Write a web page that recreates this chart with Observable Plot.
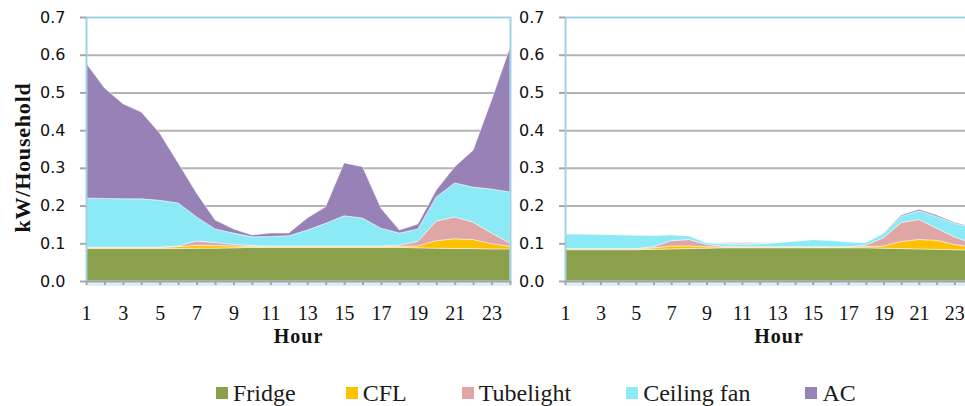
<!DOCTYPE html>
<html><head><meta charset="utf-8">
<script src="https://cdn.jsdelivr.net/npm/d3@7"></script>
<script src="https://cdn.jsdelivr.net/npm/@observablehq/plot@0.6"></script>
<style>
html,body{margin:0;padding:0;background:#fff;width:965px;height:406px;overflow:hidden;position:relative}
#left{position:absolute;left:0;top:0;width:515px}
#right{position:absolute;left:480px;top:0;width:500px}
#left svg,#right svg{background:transparent;max-width:none !important}
#legend{position:absolute;left:216px;top:379px;display:flex;gap:55px;font-family:"Liberation Serif",serif;font-size:24px;line-height:28px;color:#1a1a1a;white-space:nowrap}
.item{display:flex;align-items:center;gap:5px}
.item:first-child{margin-right:-5px}
.sw{width:12px;height:12px;display:inline-block}
g[aria-label="y-axis label"] text{font-family:"Liberation Serif",serif;font-weight:bold;font-size:22px;letter-spacing:0.8px;fill:#111;translate:2px 8px}
g[aria-label="x-axis label"] text{font-family:"Liberation Serif",serif;font-weight:bold;font-size:20px;letter-spacing:1px;fill:#111}
#right g[aria-label="x-axis label"] text{translate:10px 0}
</style>
</head><body>
<div id="left"></div>
<div id="right"></div>
<div id="legend"></div>
<script>
const hours = [1,2,3,4,5,6,7,8,9,10,11,12,13,14,15,16,17,18,19,20,21,22,23,24];
const appliances = ["Fridge","CFL","Tubelight","Ceiling fan","AC"];
const colors = ["#8aa04b","#ffc000","#e0a6a5","#8ce9f6","#9781b6"];
const yTicks = [0,0.1,0.2,0.3,0.4,0.5,0.6,0.7];
const gridTicks = [0.1,0.2,0.3,0.4,0.5,0.6];
const yLabel = "kW/Household";
const xLabel = "Hour";

// Left panel (kW per household, stacked increments)
const fridgeA = [0.086,0.086,0.086,0.086,0.086,0.086,0.087,0.087,0.088,0.089,0.089,0.089,0.089,0.089,0.089,0.089,0.089,0.089,0.088,0.087,0.086,0.086,0.085,0.085];
const cflA    = [0.003,0.003,0.003,0.003,0.003,0.005,0.008,0.007,0.005,0.003,0.003,0.003,0.003,0.003,0.003,0.003,0.003,0.003,0.005,0.020,0.026,0.024,0.014,0.007];
const tubeA   = [0.001,0.001,0.001,0.001,0.001,0.002,0.011,0.008,0.004,0.002,0.001,0.001,0.001,0.001,0.001,0.001,0.001,0.003,0.012,0.052,0.058,0.046,0.028,0.008];
const fanA    = [0.130,0.129,0.128,0.128,0.124,0.114,0.064,0.036,0.030,0.023,0.025,0.027,0.042,0.060,0.080,0.074,0.047,0.032,0.033,0.064,0.090,0.093,0.117,0.136];
const acA     = [0.358,0.293,0.252,0.230,0.178,0.106,0.063,0.024,0.011,0.005,0.009,0.007,0.032,0.044,0.140,0.136,0.053,0.008,0.013,0.018,0.043,0.098,0.236,0.384];

// Right panel
const fridgeB = [0.083,0.083,0.083,0.083,0.083,0.084,0.085,0.086,0.087,0.088,0.088,0.088,0.088,0.088,0.088,0.088,0.088,0.088,0.087,0.086,0.085,0.084,0.083,0.082];
const cflB    = [0.002,0.002,0.002,0.002,0.002,0.004,0.008,0.007,0.004,0.002,0.002,0.002,0.002,0.002,0.002,0.002,0.002,0.003,0.006,0.019,0.025,0.024,0.014,0.008];
const tubeB   = [0.001,0.001,0.001,0.001,0.001,0.003,0.014,0.017,0.006,0.002,0.001,0.001,0.001,0.001,0.001,0.001,0.001,0.004,0.022,0.050,0.053,0.032,0.020,0.010];
const fanB    = [0.039,0.039,0.038,0.037,0.036,0.030,0.016,0.010,0.005,0.007,0.007,0.008,0.011,0.015,0.019,0.017,0.013,0.007,0.012,0.017,0.023,0.031,0.036,0.042];
const acB     = [0,0,0,0,0,0,0,0,0,0,0,0,0,0,0,0,0,0,0.001,0.003,0.004,0.004,0.003,0.002];

function panel(series, {width, marginLeft, marginRight, label}) {
  const rows = [];
  appliances.forEach((a, i) => series[i].forEach((v, j) => rows.push({hour: hours[j], appliance: a, value: v})));
  return Plot.plot({
    width, height: 352, marginTop: 17, marginBottom: 71, marginLeft, marginRight,
    style: {background: "transparent", overflow: "visible", maxWidth: "none"},
    x: {domain: [1, 24]},
    y: {domain: [0, 0.7]},
    color: {domain: appliances, range: colors},
    marks: [
      Plot.gridY(gridTicks, {stroke: "#b3b3b3", strokeOpacity: 1, strokeWidth: 2}),
      Plot.areaY(rows, {x: "hour", y: "value", z: "appliance", fill: "appliance", order: appliances, stroke: "#fff", strokeWidth: 0.6, strokeOpacity: 0.8}),
      Plot.frame({stroke: "#9fd3e3", strokeWidth: 2}),
      Plot.ruleY([0], {stroke: "#a6a6a6", strokeWidth: 2}),
      Plot.ruleY([0], {stroke: "#cdeaf2", strokeWidth: 2, dy: 3}),
      Plot.axisY({ticks: yTicks, tickFormat: d3.format(".1f"), tickSize: 6, tickPadding: 15,
        stroke: "#a6a6a6", strokeWidth: 2, fill: "#111", fontFamily: "DejaVu Sans", fontSize: 16,
        label, labelAnchor: "center", labelOffset: 74, labelArrow: "none"}),
      Plot.axisX({ticks: hours, tickFormat: d => d % 2 ? String(d) : "", tickSize: 4, tickPadding: 20,
        stroke: "#a6a6a6", strokeWidth: 2, fill: "#111", fontFamily: "Liberation Serif", fontSize: 20,
        label: xLabel, labelAnchor: "center", labelOffset: 61, labelArrow: "none"})
    ]
  });
}

document.getElementById("left").append(panel([fridgeA, cflA, tubeA, fanA, acA], {width: 515, marginLeft: 86, marginRight: 5, label: yLabel}));
document.getElementById("right").append(panel([fridgeB, cflB, tubeB, fanB, acB], {width: 500, marginLeft: 85, marginRight: 8, label: null}));

const legend = document.getElementById("legend");
appliances.forEach((a, i) => {
  const item = document.createElement("div");
  item.className = "item";
  const sw = document.createElement("span");
  sw.className = "sw";
  sw.style.background = colors[i];
  const t = document.createElement("span");
  t.textContent = a;
  item.append(sw, t);
  legend.append(item);
});
</script>
</body></html>
